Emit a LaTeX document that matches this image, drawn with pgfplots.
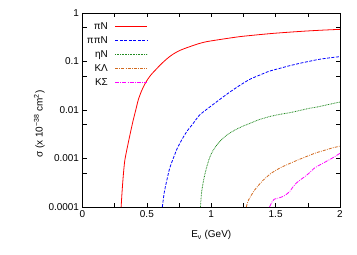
\documentclass[border=0pt]{standalone}
\usepackage{pgfplots}
\pgfplotsset{compat=1.18}
\usepackage{fontspec}
\setmainfont{Liberation Sans}
\definecolor{cgreen}{RGB}{34,139,34}
\definecolor{corange}{RGB}{210,105,30}
\definecolor{cmag}{RGB}{255,0,255}
\definecolor{cblue}{RGB}{0,0,255}
\definecolor{cred}{RGB}{255,0,0}
\begin{document}
\begin{tikzpicture}
\useasboundingbox (-82.5bp,-48bp) rectangle (274.5bp,207bp);
\begin{axis}[
  at={(0,0)}, anchor=south west,
  scale only axis, width=257.5bp, height=194bp,
  ymode=log, xmin=0, xmax=2, ymin=1e-4, ymax=1,
  xtick={0,0.5,1,1.5,2}, xticklabels={0,0.5,1,1.5,2},
  minor xtick={0.25,0.75,1.25,1.75},
  ytick={1e-4,1e-3,1e-2,1e-1,1},
  yticklabels={0.0001,0.001,0.01,0.1,1},
  minor ytick={0.0005,0.005,0.05,0.5},
  major tick length=4bp, minor tick length=4bp,
  tick style={black, line width=0.5pt},
  axis line style={line width=0.6pt},
  /pgf/number format/assume math mode=true,
  tick label style={font=\fontsize{10}{12}\selectfont},
  label style={font=\fontsize{10}{12}\selectfont},
  xlabel={E\textsubscript{ν} (GeV)},
  ylabel={σ (x 10\textsuperscript{−38} cm\textsuperscript{2})},
  xlabel style={yshift=-6bp},
  ylabel style={xshift=-14bp, yshift=-3bp},
  legend plot pos=right,
  legend cell align=right,
  legend style={at={(rel axis cs:0.253,0.959)}, anchor=north east, draw=none, fill=none,
    inner sep=0pt, outer sep=0pt, row sep=2.5bp, column sep=6bp,
    font=\fontsize{10}{12}\selectfont,
    nodes={inner sep=1bp, text height=7.5bp, text depth=2bp}},
  every axis plot/.append style={line width=0.8pt},
  clip=true,
]
\addlegendimage{legend image code/.code={\draw[cred, line width=0.8pt] (0bp,0bp) -- (32bp,0bp);}}
\addlegendentry{πN}
\addlegendimage{legend image code/.code={\draw[cblue, line width=0.8pt, dash pattern=on 3bp off 1.5bp] (0bp,0bp) -- (32bp,0bp);}}
\addlegendentry{ππN}
\addlegendimage{legend image code/.code={\draw[cgreen, line width=0.8pt, dash pattern=on 0.8bp off 0.8bp] (0bp,0bp) -- (32bp,0bp);}}
\addlegendentry{ηN}
\addlegendimage{legend image code/.code={\draw[corange, line width=0.8pt, dash pattern=on 3bp off 1.2bp on 0.8bp off 1.2bp] (0bp,0bp) -- (32bp,0bp);}}
\addlegendentry{KΛ}
\addlegendimage{legend image code/.code={\draw[cmag, line width=0.8pt, dash pattern=on 4bp off 1.2bp on 0.8bp off 1.2bp] (0bp,0bp) -- (32bp,0bp);}}
\addlegendentry{KΣ}
\addplot[color=cred, solid, smooth, tension=0.4, forget plot] coordinates {
(0.300,1e-4) (0.307,2.0e-4) (0.314,3.6e-4) (0.321,6e-4) (0.329,9.3e-4) (0.344,1.5e-3)
(0.360,2.4e-3) (0.377,3.9e-3) (0.394,6.2e-3) (0.413,0.0098) (0.433,0.0161)
(0.458,0.0245) (0.4845,0.0344) (0.508,0.0435) (0.531,0.0527) (0.555,0.062) (0.578,0.0718)
(0.603,0.0845) (0.628,0.0977) (0.653,0.112) (0.678,0.127) (0.715,0.148) (0.756,0.169)
(0.795,0.186) (0.833,0.202) (0.895,0.23) (0.963,0.256) (1.09,0.29) (1.22,0.325)
(1.35,0.353) (1.48,0.38) (1.61,0.403) (1.74,0.425) (1.87,0.444) (2.0,0.46)};
\addplot[color=cblue, dash pattern=on 3bp off 1.5bp, smooth, tension=0.4, forget plot] coordinates {
(0.62,1e-4) (0.635,2e-4) (0.65,3.1e-4) (0.675,6e-4) (0.70,9.3e-4) (0.735,1.6e-3)
(0.77,2.4e-3) (0.81,3.6e-3) (0.86,5.3e-3) (0.91,7.9e-3) (0.99,0.0116) (1.066,0.0165)
(1.14,0.023) (1.22,0.032) (1.30,0.043) (1.38,0.053) (1.45,0.063) (1.53,0.072)
(1.61,0.082) (1.69,0.092) (1.77,0.102) (1.84,0.111) (1.92,0.119) (2.0,0.126)};
\addplot[color=cgreen, dash pattern=on 0.8bp off 0.8bp, smooth, tension=0.4, forget plot] coordinates {
(0.916,1e-4) (0.925,2e-4) (0.94,3.5e-4) (0.96,6e-4) (0.985,1e-3) (1.01,1.4e-3)
(1.05,2e-3) (1.09,2.6e-3) (1.14,3.3e-3) (1.195,4e-3) (1.25,4.7e-3) (1.30,5.3e-3)
(1.37,6.3e-3) (1.45,7.3e-3) (1.53,8.1e-3) (1.61,8.8e-3) (1.69,9.8e-3) (1.76,0.0108)
(1.82,0.0115) (1.9,0.0128) (2.0,0.0146)};
\addplot[color=corange, dash pattern=on 3bp off 1.2bp on 0.8bp off 1.2bp, smooth, tension=0.4, forget plot] coordinates {
(1.272,1e-4) (1.29,1.4e-4) (1.337,2.24e-4) (1.40,3.5e-4) (1.467,5e-4) (1.54,6.5e-4)
(1.61,7.9e-4) (1.68,9.5e-4) (1.74,1.1e-3) (1.81,1.3e-3) (1.87,1.45e-3) (1.94,1.65e-3)
(2.0,1.8e-3)};
\addplot[color=cmag, dash pattern=on 4bp off 1.2bp on 0.8bp off 1.2bp, smooth, tension=0.4, forget plot] coordinates {
(1.453,1e-4) (1.47,1.25e-4) (1.49,1.45e-4) (1.52,1.52e-4) (1.545,1.6e-4) (1.575,1.75e-4)
(1.61,2.1e-4) (1.635,2.6e-4) (1.66,3.1e-4) (1.69,3.6e-4) (1.725,4.2e-4) (1.76,5e-4)
(1.80,6.3e-4) (1.84,7.3e-4) (1.89,8.6e-4) (1.94,1.02e-3) (2.0,1.28e-3)};
\end{axis}
\end{tikzpicture}
\end{document}
